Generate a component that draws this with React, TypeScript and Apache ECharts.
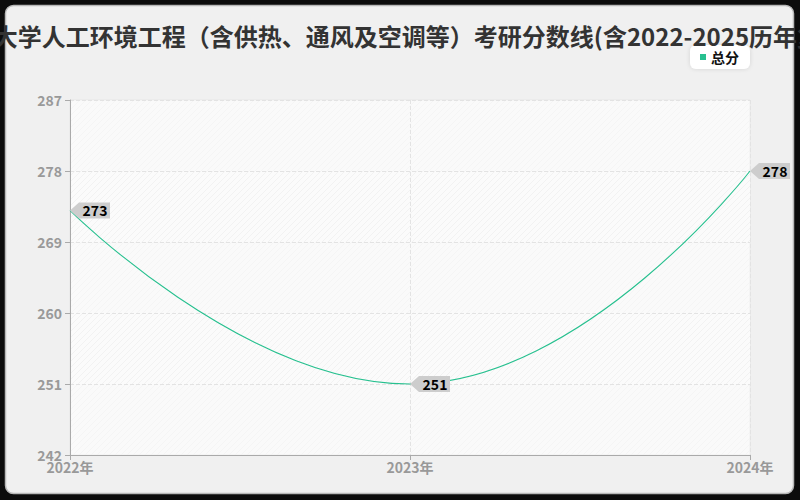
import React, { useEffect, useRef } from "react";
import * as echarts from "echarts";

const titleText = "天津大学人工环境工程（含供热、通风及空调等）考研分数线(含2022-2025历年复试)";
const categories = ["2022年", "2023年", "2024年"];
const totalScores = [273, 251, 278];
const seriesName = "总分";
const yMin = 242;
const yMax = 287;
const yInterval = 9;

function makeHatch(bg: string, line: string): string {
  const c = document.createElement("canvas");
  c.width = 6;
  c.height = 6;
  const ctx = c.getContext("2d");
  if (!ctx) return bg;
  ctx.fillStyle = bg;
  ctx.fillRect(0, 0, 6, 6);
  ctx.strokeStyle = line;
  ctx.lineWidth = 1;
  ctx.beginPath();
  ctx.moveTo(-1, 7);
  ctx.lineTo(7, -1);
  ctx.moveTo(-1, 1);
  ctx.lineTo(1, -1);
  ctx.moveTo(5, 7);
  ctx.lineTo(7, 5);
  ctx.stroke();
  return c.toDataURL();
}

export default function App() {
  const ref = useRef<HTMLDivElement>(null);
  useEffect(() => {
    if (!ref.current) return;
    const chart = echarts.init(ref.current, undefined, { renderer: "svg" });
    const hatchA = makeHatch("#fafafa", "#f0f0f0");
    const hatchB = makeHatch("#fbfbfb", "#f2f2f2");
    const lineColor = "#27c08f";
    chart.setOption({
      animation: false,
      backgroundColor: "#0c0c0c",
      textStyle: { fontFamily: "'Noto Sans CJK SC', 'Noto Sans', sans-serif" },
      graphic: {
        elements: [
          {
            type: "rect",
            z: -100,
            silent: true,
            shape: { x: 5.5, y: 5.5, width: 788, height: 488, r: 8 },
            style: { fill: "#f0f0f0", stroke: "#b8b8b8", lineWidth: 1.5 },
          },
        ],
      },
      title: {
        text: titleText,
        left: "center",
        top: 18,
        textStyle: { fontSize: 24, fontWeight: "bold", color: "#333" },
      },
      legend: {
        right: 50,
        top: 45,
        data: [seriesName],
        icon: "rect",
        itemWidth: 6,
        itemHeight: 6,
        itemGap: 6,
        backgroundColor: "#ffffff",
        borderRadius: 6,
        padding: [5, 11, 5, 10],
        shadowBlur: 4,
        shadowColor: "rgba(0,0,0,0.12)",
        textStyle: { fontSize: 14, color: "#111", fontWeight: "bold" },
      },
      grid: {
        left: 70,
        right: 50,
        top: 100,
        bottom: 45,
        show: true,
        backgroundColor: { image: hatchA, repeat: "repeat" },
        borderColor: "#e6e6e6",
        borderWidth: 1,
      },
      xAxis: {
        type: "category",
        data: categories,
        boundaryGap: false,
        axisLine: { lineStyle: { color: "#aaa" } },
        axisTick: { show: true, length: 5, lineStyle: { color: "#aaa" } },
        axisLabel: { color: "#999", fontSize: 14, fontWeight: "bold", margin: 5 },
        splitLine: { show: true, lineStyle: { type: "dashed", color: "#e3e3e3" } },
      },
      yAxis: {
        type: "value",
        min: yMin,
        max: yMax,
        interval: yInterval,
        axisLine: { show: true, lineStyle: { color: "#aaa" } },
        axisTick: { show: true, length: 5, lineStyle: { color: "#aaa" } },
        axisLabel: { color: "#999", fontSize: 14, fontWeight: "bold", margin: 8 },
        splitLine: { show: true, lineStyle: { type: "dashed", color: "#e3e3e3" } },
        splitArea: {
          show: true,
          areaStyle: {
            color: [
              "rgba(250,250,250,0.55)",
              { image: hatchB, repeat: "repeat" },
            ],
          },
        },
      },
      series: [
        {
          name: seriesName,
          type: "line",
          data: totalScores,
          smooth: true,
          showSymbol: false,
          symbol: "circle",
          itemStyle: { color: lineColor },
          lineStyle: { color: lineColor, width: 1.1 },
          markPoint: {
            symbol: "path://M0,7L9,0L40,0L40,14L9,14Z",
            symbolSize: [40, 16],
            symbolOffset: [20, 0],
            itemStyle: { color: "#cdcdcd" },
            label: {
              show: true,
              position: "inside",
              offset: [5, 0],
              color: "#000",
              fontSize: 14,
              fontWeight: "bold",
              formatter: "{c}",
            },
            data: totalScores.map((v, i) => ({ coord: [categories[i], v], value: v })),
          },
        },
      ],
    });
    return () => chart.dispose();
  }, []);
  return (
    <div
      ref={ref}
      style={{ position: "fixed", left: 0, top: 0, width: 800, height: 500 }}
    />
  );
}
